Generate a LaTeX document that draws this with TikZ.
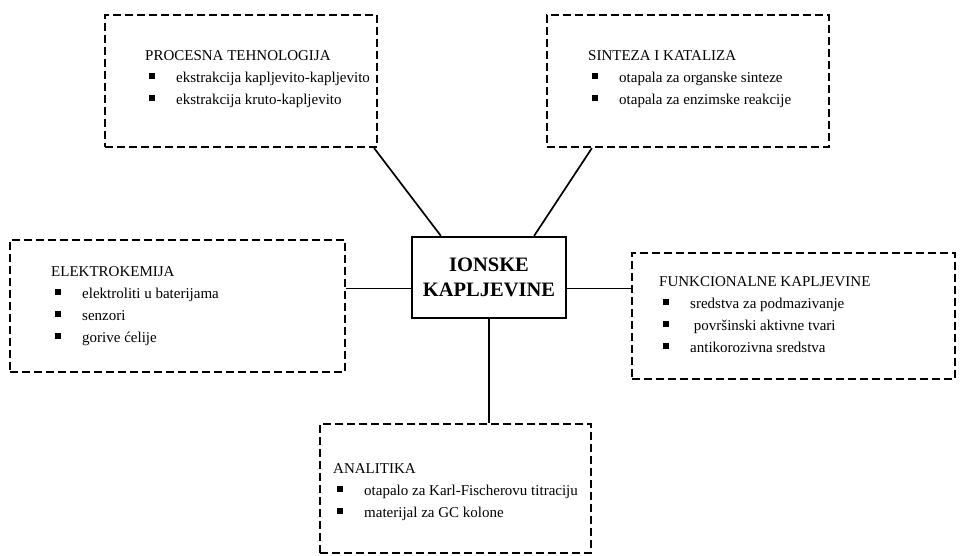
\documentclass[tikz,border=0pt]{standalone}
\usepackage{fontspec}
\setmainfont{Liberation Serif}
\usetikzlibrary{positioning,calc}

\newcommand{\blt}{\makebox[31pt][l]{\hspace{4pt}\rule[0.22em]{5.5pt}{5.5pt}}}

\begin{document}
\begin{tikzpicture}[x=1pt, y=-1pt,
  dbox/.style={rectangle, draw, line width=2.2pt, dash pattern=on 8pt off 4pt, inner sep=0pt},
  txt/.style={anchor=north west, align=left, inner sep=0pt, font=\fontsize{15}{22}\selectfont},
  link/.style={line width=1.7pt}]
\useasboundingbox (0,0) rectangle (960,556);

% centre
\node[rectangle, draw, line width=2.2pt, minimum width=154pt, minimum height=81pt, align=center,
  font=\fontsize{20.5}{25}\selectfont\bfseries] (ion) at (489,277.5) {IONSKE\\KAPLJEVINE};

% application boxes
\node[dbox, minimum width=272pt, minimum height=132pt] (proc) at (241,81) {};
\node[dbox, minimum width=282pt, minimum height=132pt] (sint) at (688,81) {};
\node[dbox, minimum width=335pt, minimum height=132pt] (elek) at (177.5,306) {};
\node[dbox, minimum width=323pt, minimum height=126pt] (funk) at (793.5,316) {};
\node[dbox, minimum width=271pt, minimum height=129pt] (anal) at (455.5,488.5) {};

\node[txt] (proctxt) at (145,50) {PROCESNA TEHNOLOGIJA\\
  \blt ekstrakcija kapljevito-kapljevito\\
  \blt ekstrakcija kruto-kapljevito};
\node[txt] (sinttxt) at (588,50) {SINTEZA I KATALIZA\\
  \blt otapala za organske sinteze\\
  \blt otapala za enzimske reakcije};
\node[txt] (elektxt) at (51,266) {ELEKTROKEMIJA\\
  \blt elektroliti u baterijama\\
  \blt senzori\\
  \blt gorive ćelije};
\node[txt] (funktxt) at (659,276) {FUNKCIONALNE KAPLJEVINE\\
  \blt sredstva za podmazivanje\\
  \blt \ površinski aktivne tvari\\
  \blt antikorozivna sredstva};
\node[txt] (analtxt) at (333,463) {ANALITIKA\\
  \blt otapalo za Karl-Fischerovu titraciju\\
  \blt materijal za GC kolone};

% connectors
\draw[link] ([xshift=-4pt]proc.south east) -- ([xshift=30pt]ion.north west);
\draw[link] ([xshift=46pt]sint.south west) -- ([xshift=-33pt]ion.north east);
\draw[link] ([yshift=-11pt]ion.west) coordinate (lw) -- (lw -| elek.east);
\draw[link] ([yshift=-11pt]ion.east) coordinate (le) -- (le -| funk.west);
\draw[link] (ion.south) -- (ion.south |- anal.north);
\end{tikzpicture}
\end{document}
